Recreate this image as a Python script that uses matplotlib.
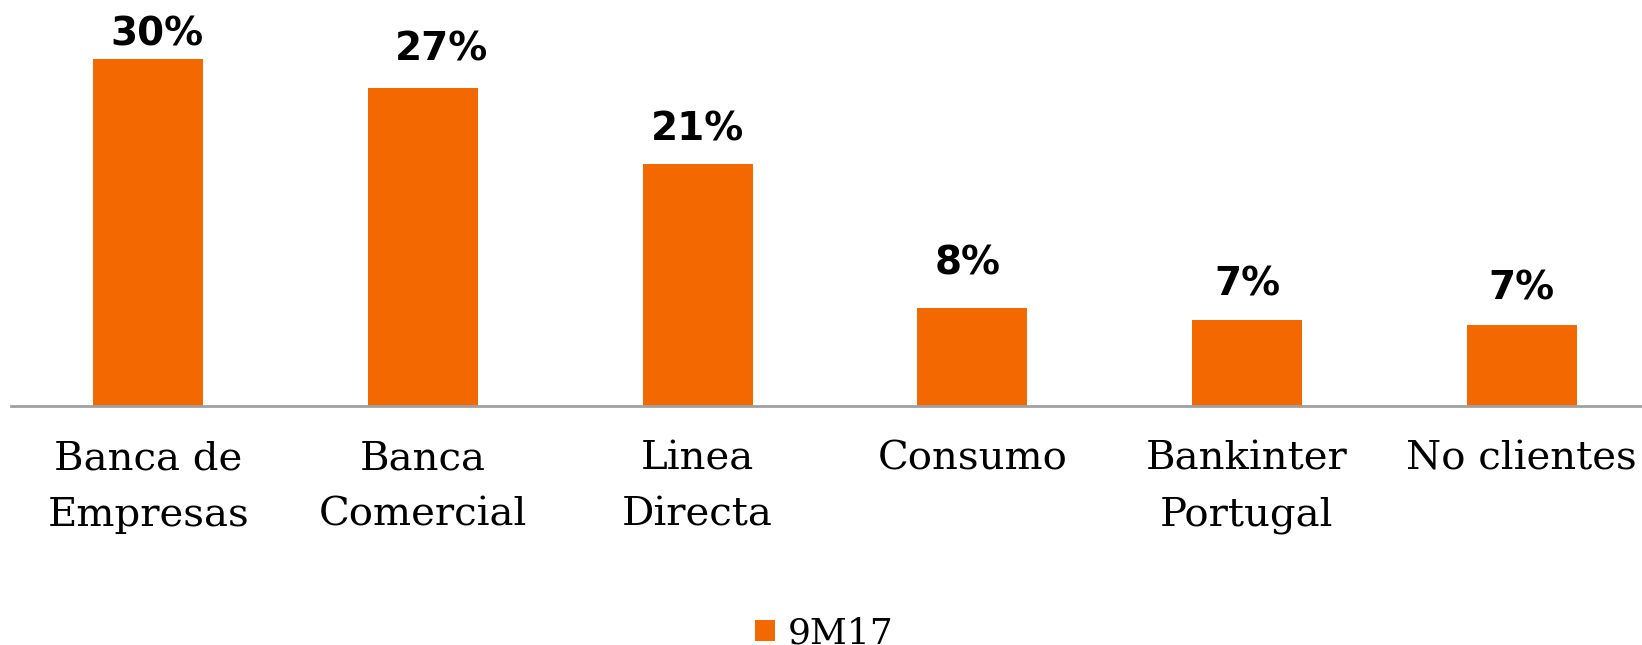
import matplotlib
matplotlib.use("Agg")
import matplotlib.pyplot as plt
from matplotlib.patches import Patch

# data
categories = ["Banca de\nEmpresas", "Banca\nComercial", "Linea\nDirecta",
              "Consumo", "Bankinter\nPortugal", "No clientes"]
shares = [30.0, 27.5, 20.9, 8.4, 7.4, 7.0]
share_labels = ["30%", "27%", "21%", "8%", "7%", "7%"]
series_name = "9M17"

# hand-placed label nudges in the original (points)
label_dx = [6.5, 13, 0, -3.5, 0, 0]
label_dy = [4, 14, 11, 18.5, 12, 12]

orange = "#F46800"

fig = plt.figure(figsize=(16.42, 6.45), dpi=100)
# axis runs a little past the right edge, like the original
ax = fig.add_axes([11 / 1642, 0.3713, 1648 / 1642, 0.6287])

x = range(len(categories))
bars = ax.bar(x, shares, width=0.40, color=orange)

# value labels above bars
for b, lab, dx, dy in zip(bars, share_labels, label_dx, label_dy):
    ax.annotate(lab, (b.get_x() + b.get_width() / 2, b.get_height()),
                xytext=(dx, dy), textcoords="offset points",
                ha="center", va="bottom", fontsize=28, fontweight="bold",
                family="DejaVu Sans")

ax.set_xlim(-0.5, 5.5)
ax.set_ylim(0, 35.08)
ax.set_xticks(list(x))
ax.set_xticklabels(categories, family="DejaVu Serif", fontsize=29,
                   linespacing=1.68)
ax.tick_params(axis="x", length=0, pad=25)
ax.set_yticks([])
for s in ["top", "left", "right"]:
    ax.spines[s].set_visible(False)
ax.spines["bottom"].set_color("#A0A0A0")
ax.spines["bottom"].set_linewidth(2)

handle = Patch(facecolor=orange, edgecolor="none")
fig.legend([handle], [series_name], loc="center", frameon=False,
           bbox_to_anchor=(0.502, 0.018), prop={"family": "DejaVu Serif", "size": 26},
           handlelength=0.55, handleheight=0.55, handletextpad=0.35)

fig.savefig("out.png", dpi=100)
